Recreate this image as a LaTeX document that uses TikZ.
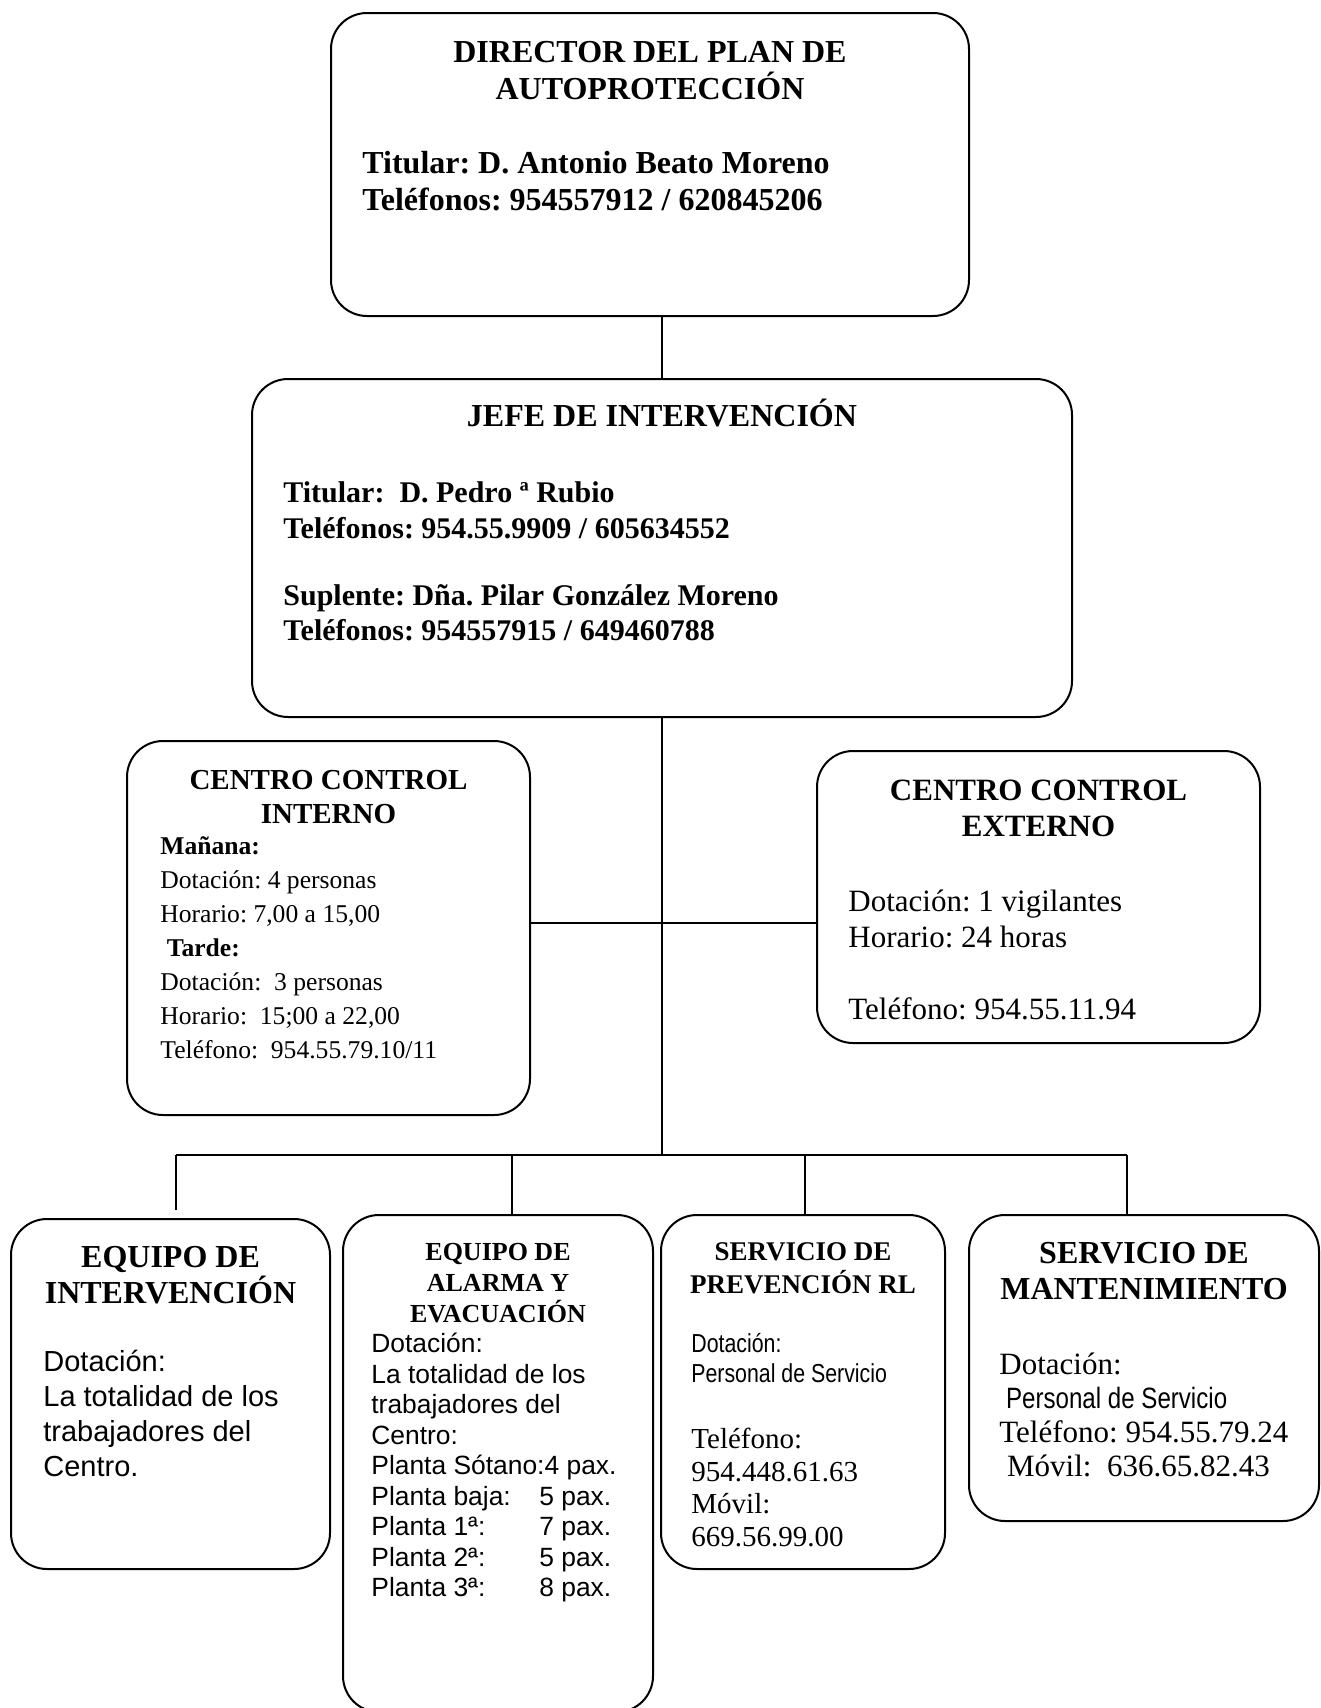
\documentclass[tikz,border=0pt]{standalone}
\usepackage{fontspec}
\setmainfont{Liberation Serif}
\newfontfamily\arialfont{Liberation Sans}
\newfontfamily\narrowfont[FakeStretch=0.82]{Liberation Sans}
\usetikzlibrary{positioning}
\frenchspacing

\begin{document}
\begin{tikzpicture}[
    x=0.5pt, y=-0.5pt,
    box/.style={rectangle, draw, rounded corners=18pt, line width=1pt},
    head/.style={align=center, inner sep=0pt},
    body/.style={align=left, inner sep=0pt},
    link/.style={line width=0.9pt}
]
    \useasboundingbox (0,0) rectangle (1321,1708);

    % Boxes
    \node[box, minimum width=319pt, minimum height=151.5pt] (dir) at (650,164.5) {};
    \node[box, minimum width=410pt, minimum height=169pt] (jefe) at (662,548) {};
    \node[box, minimum width=201.5pt, minimum height=187pt] (cci) at (328.5,928) {};
    \node[box, minimum width=221.5pt, minimum height=146pt] (cce) at (1038.5,897) {};
    \node[box, minimum width=159.5pt, minimum height=175pt] (ei) at (170.5,1394) {};
    \node[box, minimum width=155pt, minimum height=248.5pt] (eae) at (498,1463.5) {};
    \node[box, minimum width=142pt, minimum height=177pt] (sprl) at (803,1392) {};
    \node[box, minimum width=175pt, minimum height=153pt] (sm) at (1144,1368) {};

    % Director
    \node[head, below=14.25pt of dir.north, font=\bfseries\fontsize{16}{18.5}\selectfont] (dirhead)
        {DIRECTOR DEL PLAN DE\\AUTOPROTECCIÓN};
    \node[body, below right=69.5pt and 16pt of dir.north west, font=\bfseries\fontsize{16}{18.5}\selectfont] (dirbody)
        {Titular: D. Antonio Beato Moreno\\Teléfonos: 954557912 / 620845206};

    % Jefe
    \node[head, below=10.5pt of jefe.north, font=\bfseries\fontsize{16}{18.5}\selectfont] (jefehead)
        {JEFE DE INTERVENCIÓN};
    \node[body, below right=51.75pt and 16pt of jefe.north west, font=\bfseries\fontsize{15}{17.75}\selectfont] (jefebody)
        {Titular:\ \ D. Pedro ª Rubio\\
         Teléfonos: 954.55.9909 / 605634552\\[15.75pt]
         Suplente: Dña. Pilar González Moreno\\
         Teléfonos: 954557915 / 649460788};

    % Centro control interno
    \node[head, below=15pt of cci.north, font=\bfseries\fontsize{14.5}{17}\selectfont] (ccihead)
        {CENTRO CONTROL\\INTERNO};
    \node[body, below right=48.25pt and 17pt of cci.north west, font=\fontsize{12.8}{17}\selectfont] (ccibody)
        {\textbf{Mañana:}\\
         Dotación: 4 personas\\
         Horario: 7,00 a 15,00\\
         \ \textbf{Tarde:}\\
         Dotación:\ \ 3 personas\\
         Horario:\ \ 15;00 a 22,00\\
         Teléfono:\ \ 954.55.79.10/11};

    % Centro control externo
    \node[head, below=15pt of cce.north, font=\bfseries\fontsize{15.5}{18}\selectfont] (ccehead)
        {CENTRO CONTROL\\EXTERNO};
    \node[body, below right=70pt and 16pt of cce.north west, font=\fontsize{15.5}{18}\selectfont] (ccebody)
        {Dotación: 1 vigilantes\\
         Horario: 24 horas\\[18pt]
         Teléfono: 954.55.11.94};

    % Equipo de intervencion
    \node[head, below=13.75pt of ei.north, font=\bfseries\fontsize{16}{18}\selectfont] (eihead)
        {EQUIPO DE\\INTERVENCIÓN};
    \node[body, below right=66pt and 16.5pt of ei.north west, font=\arialfont\fontsize{14.5}{17.5}\selectfont] (eibody)
        {Dotación:\\La totalidad de los\\trabajadores del\\Centro.};

    % Equipo de alarma y evacuacion
    \node[head, below=14.5pt of eae.north, font=\bfseries\fontsize{13}{15.5}\selectfont] (eaehead)
        {EQUIPO DE\\ALARMA Y\\EVACUACIÓN};
    \node[body, below right=59.5pt and 14.5pt of eae.north west, font=\arialfont\fontsize{13.2}{15.25}\selectfont] (eaebody)
        {Dotación:\\
         La totalidad de los\\
         trabajadores del\\
         Centro:\\
         Planta Sótano:4 pax.\\
         \makebox[84pt][l]{Planta baja:}5 pax.\\
         \makebox[84pt][l]{Planta 1ª:}7 pax.\\
         \makebox[84pt][l]{Planta 2ª:}5 pax.\\
         \makebox[84pt][l]{Planta 3ª:}8 pax.};

    % Servicio de prevencion
    \node[head, below=14pt of sprl.north, font=\bfseries\fontsize{13.5}{16.5}\selectfont] (sprlhead)
        {SERVICIO DE\\PREVENCIÓN RL};
    \node[body, below right=59.5pt and 15.5pt of sprl.north west, font=\fontsize{14.5}{16.25}\selectfont] (sprlbody)
        {{\narrowfont\fontsize{13}{15}\selectfont Dotación:}\\[-1.25pt]
         {\narrowfont\fontsize{13}{15}\selectfont Personal de Servicio}\\[16.75pt]
         Teléfono:\\
         954.448.61.63\\
         Móvil:\\
         669.56.99.00};

    % Servicio de mantenimiento
    \node[head, below=13.75pt of sm.north, font=\bfseries\fontsize{16}{18}\selectfont] (smhead)
        {SERVICIO DE\\MANTENIMIENTO};
    \node[body, below right=69.5pt and 15.5pt of sm.north west, font=\fontsize{15.5}{17}\selectfont] (smbody)
        {Dotación:\\
         {\narrowfont\fontsize{14.7}{17}\selectfont\ Personal de Servicio}\\
         Teléfono: 954.55.79.24\\
         \ Móvil:\ \ 636.65.82.43};

    % Connectors
    \coordinate (mid) at (662,923);
    \coordinate (hub) at (662,1155);
    \coordinate (b1) at (176,1155);
    \coordinate (b2) at (512,1155);
    \coordinate (b3) at (805,1155);
    \coordinate (b4) at (1127,1155);

    \draw[link] (dir.south -| jefe.north) -- (jefe.north);
    \draw[link] (jefe.south) -- (hub);
    \draw[link] (cci.east |- mid) -- (cce.west |- mid);
    \draw[link] (b1) -- (b4);
    \draw[link, shorten >=4pt] (b1) -- (b1 |- ei.north);
    \draw[link] (b2) -- (b2 |- eae.north);
    \draw[link] (b3) -- (b3 |- sprl.north);
    \draw[link] (b4) -- (b4 |- sm.north);
\end{tikzpicture}
\end{document}
